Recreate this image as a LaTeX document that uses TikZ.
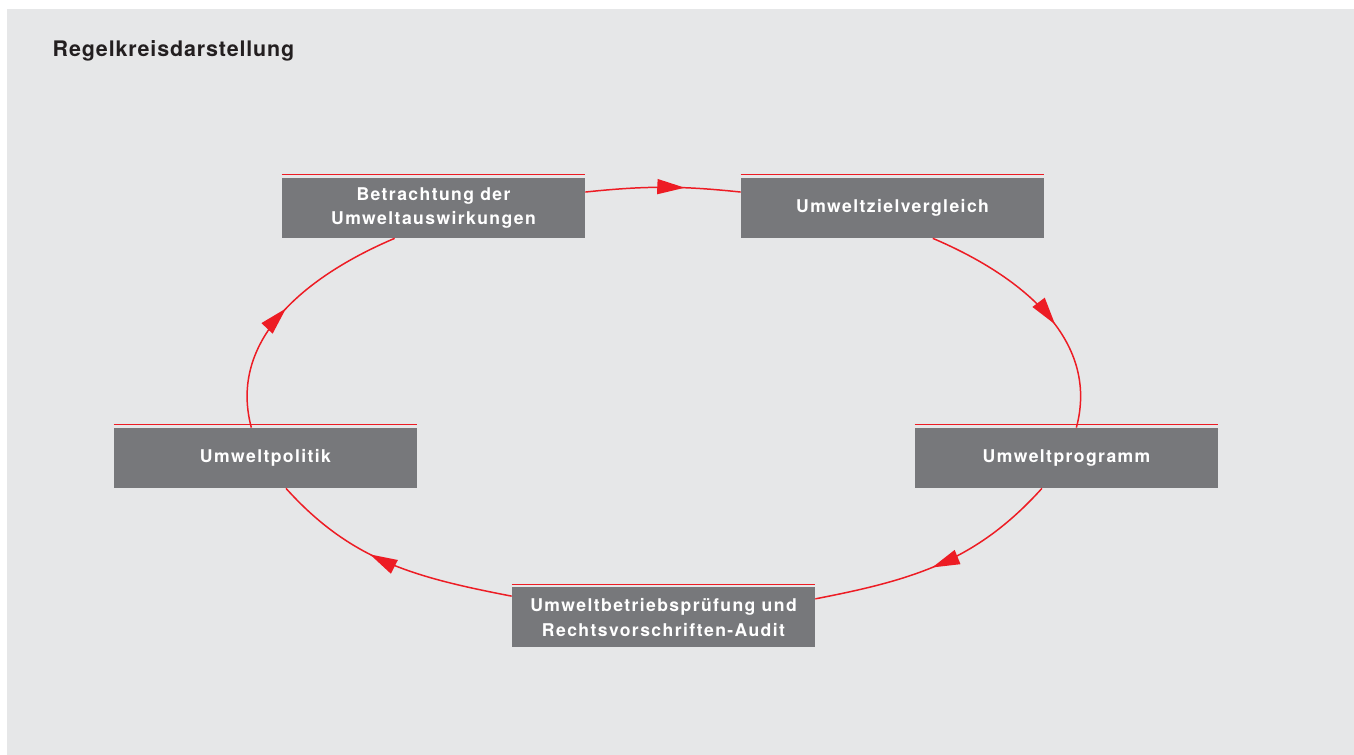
\documentclass[tikz,border=0pt]{standalone}
\usepackage{fontspec}
\setmainfont{TeX Gyre Heros}
\newfontfamily\kastenfont[LetterSpace=8]{TeX Gyre Heros}
\newfontfamily\titelfont[LetterSpace=4]{TeX Gyre Heros}
\usetikzlibrary{arrows.meta,decorations.markings}
\definecolor{kreisrot}{HTML}{ED1C24}
\definecolor{kastengrau}{HTML}{77787B}
\definecolor{flaeche}{HTML}{E6E7E8}
\definecolor{titelgrau}{HTML}{231F20}

\begin{document}
\begin{tikzpicture}[
  kasten/.style={rectangle,fill=kastengrau,text=white,minimum width=6.06cm,minimum height=1.2cm,
    inner sep=0pt,align=center,font=\kastenfont\bfseries\fontsize{10}{14}\selectfont},
  fluss/.style={color=kreisrot,line width=0.85pt,postaction={decorate},
    decoration={markings,mark=at position #1 with {\arrow{Triangle[length=0.55cm,width=0.3cm]}}}}]

\useasboundingbox (0,0) rectangle (27.08,15.1);
\fill[flaeche] (0.14,0) rectangle (27.08,14.92);

\node[anchor=base west,text=titelgrau,font=\titelfont\bfseries\fontsize{12.2}{14}\selectfont] (titel) at (0.93,13.97) {Regelkreisdarstellung};

% Kaesten
  \node[kasten] (betr) at (8.67,10.94) {Betrachtung der\\Umweltauswirkungen};
  \node[kasten] (ziel) at (17.85,10.94) {Umweltzielvergleich};
  \node[kasten] (prog) at (21.33,5.94) {Umweltprogramm};
  \node[kasten] (audit) at (13.27,2.75) {Umweltbetriebsprüfung und\\Rechtsvorschriften-Audit};
  \node[kasten] (pol) at (5.31,5.94) {Umweltpolitik};

% rote Linie ueber jedem Kasten
\foreach \k in {betr,ziel,prog,audit,pol}
  \draw[kreisrot,line width=0.6pt] ([yshift=0.06cm]\k.north west) -- ([yshift=0.06cm]\k.north east);

% Regelkreis
  \path
    (betr.6) edge [fluss=0.64,out=6,in=174] (ziel.174)
    (ziel.-37) edge [fluss=0.58,out=-23,in=75] (prog.72)
    (prog.231) edge [fluss=0.53,out=228,in=11] (audit.7.5)
    (audit.172.5) edge [fluss=0.58,out=169,in=-48] (pol.-56)
    (pol.115) edge [fluss=0.5,out=105,in=203] (betr.218);

\end{tikzpicture}
\end{document}
